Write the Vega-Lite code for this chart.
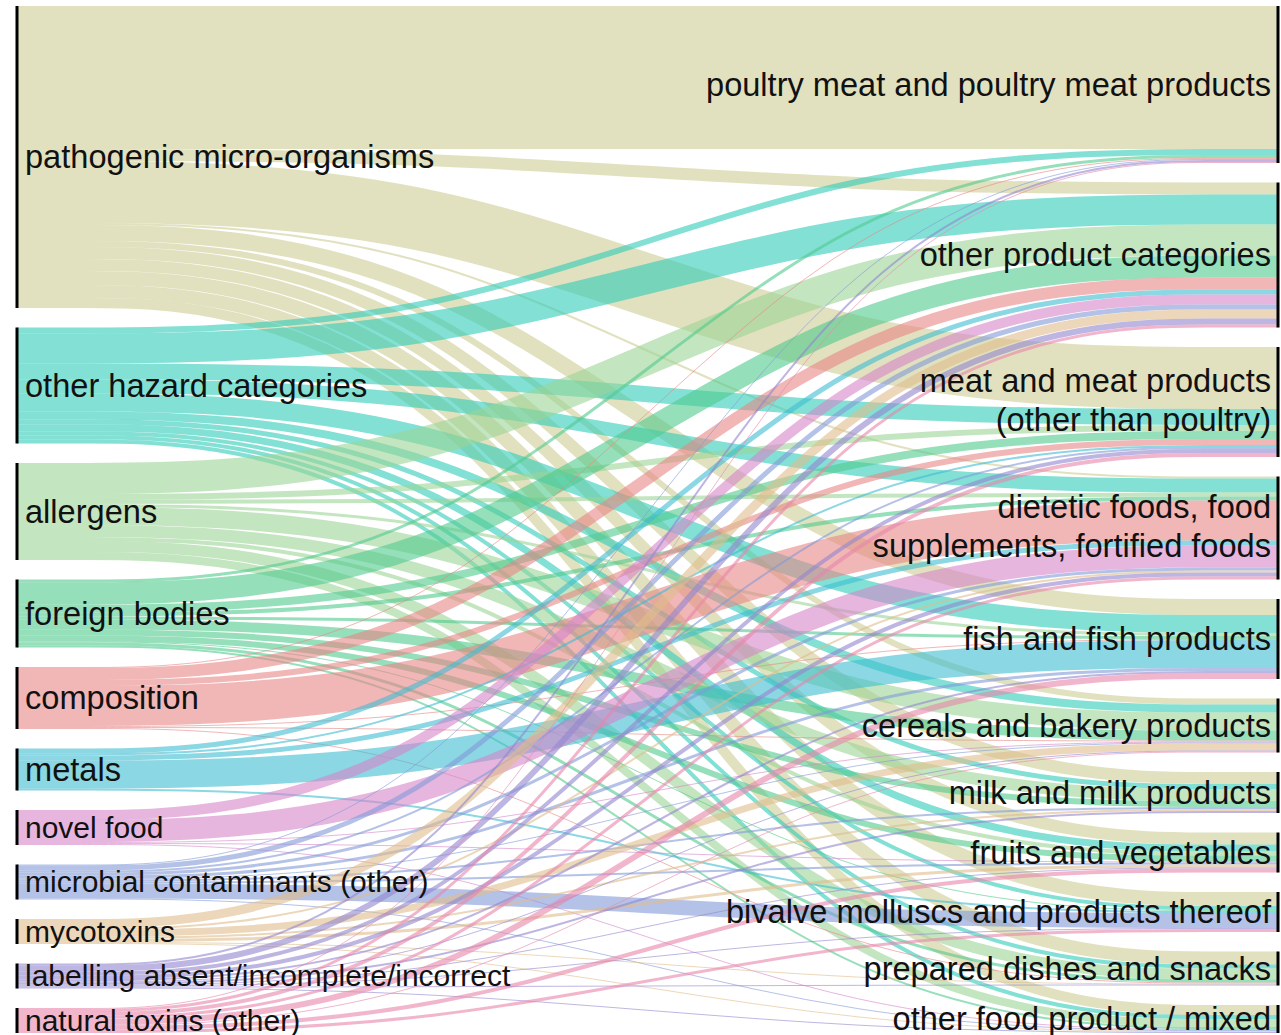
{
  "$schema": "https://vega.github.io/schema/vega-lite/v6.json",
  "width": 1261,
  "height": 1032,
  "padding": {"left": 17, "top": 6, "right": 3, "bottom": 0},
  "autosize": {"type": "none"},
  "background": "white",
  "config": {"view": {"stroke": null}, "text": {"font": "Liberation Sans"}},
  "data": {"values": [
    {"source": "pathogenic micro-organisms", "target": "poultry meat and poultry meat products", "value": 143},
    {"source": "pathogenic micro-organisms", "target": "other product categories", "value": 12},
    {"source": "pathogenic micro-organisms", "target": "meat and meat products\n(other than poultry)", "value": 62},
    {"source": "pathogenic micro-organisms", "target": "dietetic foods, food\nsupplements, fortified foods", "value": 2},
    {"source": "pathogenic micro-organisms", "target": "fish and fish products", "value": 16},
    {"source": "pathogenic micro-organisms", "target": "cereals and bakery products", "value": 6},
    {"source": "pathogenic micro-organisms", "target": "milk and milk products", "value": 12},
    {"source": "pathogenic micro-organisms", "target": "fruits and vegetables", "value": 12},
    {"source": "pathogenic micro-organisms", "target": "bivalve molluscs and products thereof", "value": 14},
    {"source": "pathogenic micro-organisms", "target": "prepared dishes and snacks", "value": 13},
    {"source": "pathogenic micro-organisms", "target": "other food product / mixed", "value": 10},

    {"source": "other hazard categories", "target": "poultry meat and poultry meat products", "value": 6},
    {"source": "other hazard categories", "target": "other product categories", "value": 30},
    {"source": "other hazard categories", "target": "meat and meat products\n(other than poultry)", "value": 16},
    {"source": "other hazard categories", "target": "dietetic foods, food\nsupplements, fortified foods", "value": 14},
    {"source": "other hazard categories", "target": "fish and fish products", "value": 18},
    {"source": "other hazard categories", "target": "cereals and bakery products", "value": 8},
    {"source": "other hazard categories", "target": "milk and milk products", "value": 5},
    {"source": "other hazard categories", "target": "fruits and vegetables", "value": 7},
    {"source": "other hazard categories", "target": "bivalve molluscs and products thereof", "value": 4},
    {"source": "other hazard categories", "target": "prepared dishes and snacks", "value": 4},
    {"source": "other hazard categories", "target": "other food product / mixed", "value": 4},

    {"source": "allergens", "target": "other product categories", "value": 31},
    {"source": "allergens", "target": "meat and meat products\n(other than poultry)", "value": 6},
    {"source": "allergens", "target": "dietetic foods, food\nsupplements, fortified foods", "value": 4},
    {"source": "allergens", "target": "fish and fish products", "value": 3},
    {"source": "allergens", "target": "cereals and bakery products", "value": 18},
    {"source": "allergens", "target": "milk and milk products", "value": 12},
    {"source": "allergens", "target": "fruits and vegetables", "value": 4},
    {"source": "allergens", "target": "prepared dishes and snacks", "value": 11},
    {"source": "allergens", "target": "other food product / mixed", "value": 8},

    {"source": "foreign bodies", "target": "poultry meat and poultry meat products", "value": 3},
    {"source": "foreign bodies", "target": "other product categories", "value": 22},
    {"source": "foreign bodies", "target": "meat and meat products\n(other than poultry)", "value": 8},
    {"source": "foreign bodies", "target": "dietetic foods, food\nsupplements, fortified foods", "value": 4},
    {"source": "foreign bodies", "target": "fish and fish products", "value": 3},
    {"source": "foreign bodies", "target": "cereals and bakery products", "value": 10},
    {"source": "foreign bodies", "target": "milk and milk products", "value": 6},
    {"source": "foreign bodies", "target": "fruits and vegetables", "value": 6},
    {"source": "foreign bodies", "target": "bivalve molluscs and products thereof", "value": 1},
    {"source": "foreign bodies", "target": "prepared dishes and snacks", "value": 3},
    {"source": "foreign bodies", "target": "other food product / mixed", "value": 2},

    {"source": "composition", "target": "poultry meat and poultry meat products", "value": 1},
    {"source": "composition", "target": "other product categories", "value": 12},
    {"source": "composition", "target": "meat and meat products\n(other than poultry)", "value": 6},
    {"source": "composition", "target": "dietetic foods, food\nsupplements, fortified foods", "value": 40},
    {"source": "composition", "target": "fish and fish products", "value": 1},
    {"source": "composition", "target": "cereals and bakery products", "value": 1},
    {"source": "composition", "target": "prepared dishes and snacks", "value": 1},

    {"source": "metals", "target": "other product categories", "value": 5},
    {"source": "metals", "target": "meat and meat products\n(other than poultry)", "value": 2},
    {"source": "metals", "target": "dietetic foods, food\nsupplements, fortified foods", "value": 5},
    {"source": "metals", "target": "fish and fish products", "value": 28},
    {"source": "metals", "target": "bivalve molluscs and products thereof", "value": 2},

    {"source": "novel food", "target": "other product categories", "value": 10},
    {"source": "novel food", "target": "dietetic foods, food\nsupplements, fortified foods", "value": 22},
    {"source": "novel food", "target": "cereals and bakery products", "value": 1},
    {"source": "novel food", "target": "fruits and vegetables", "value": 1},
    {"source": "novel food", "target": "other food product / mixed", "value": 1},

    {"source": "microbial contaminants (other)", "target": "poultry meat and poultry meat products", "value": 1},
    {"source": "microbial contaminants (other)", "target": "other product categories", "value": 5},
    {"source": "microbial contaminants (other)", "target": "meat and meat products\n(other than poultry)", "value": 2},
    {"source": "microbial contaminants (other)", "target": "dietetic foods, food\nsupplements, fortified foods", "value": 3},
    {"source": "microbial contaminants (other)", "target": "fish and fish products", "value": 3},
    {"source": "microbial contaminants (other)", "target": "cereals and bakery products", "value": 1},
    {"source": "microbial contaminants (other)", "target": "milk and milk products", "value": 2},
    {"source": "microbial contaminants (other)", "target": "fruits and vegetables", "value": 2},
    {"source": "microbial contaminants (other)", "target": "bivalve molluscs and products thereof", "value": 15},
    {"source": "microbial contaminants (other)", "target": "other food product / mixed", "value": 1},

    {"source": "mycotoxins", "target": "other product categories", "value": 9},
    {"source": "mycotoxins", "target": "dietetic foods, food\nsupplements, fortified foods", "value": 2},
    {"source": "mycotoxins", "target": "cereals and bakery products", "value": 7},
    {"source": "mycotoxins", "target": "milk and milk products", "value": 2},
    {"source": "mycotoxins", "target": "fruits and vegetables", "value": 3},
    {"source": "mycotoxins", "target": "prepared dishes and snacks", "value": 1},
    {"source": "mycotoxins", "target": "other food product / mixed", "value": 1},

    {"source": "labelling absent/incomplete/incorrect", "target": "poultry meat and poultry meat products", "value": 2},
    {"source": "labelling absent/incomplete/incorrect", "target": "other product categories", "value": 6},
    {"source": "labelling absent/incomplete/incorrect", "target": "meat and meat products\n(other than poultry)", "value": 4},
    {"source": "labelling absent/incomplete/incorrect", "target": "dietetic foods, food\nsupplements, fortified foods", "value": 4},
    {"source": "labelling absent/incomplete/incorrect", "target": "fish and fish products", "value": 2},
    {"source": "labelling absent/incomplete/incorrect", "target": "cereals and bakery products", "value": 1},
    {"source": "labelling absent/incomplete/incorrect", "target": "milk and milk products", "value": 2},
    {"source": "labelling absent/incomplete/incorrect", "target": "fruits and vegetables", "value": 1},
    {"source": "labelling absent/incomplete/incorrect", "target": "bivalve molluscs and products thereof", "value": 1},
    {"source": "labelling absent/incomplete/incorrect", "target": "prepared dishes and snacks", "value": 1},
    {"source": "labelling absent/incomplete/incorrect", "target": "other food product / mixed", "value": 1},

    {"source": "natural toxins (other)", "target": "poultry meat and poultry meat products", "value": 1},
    {"source": "natural toxins (other)", "target": "other product categories", "value": 3},
    {"source": "natural toxins (other)", "target": "meat and meat products\n(other than poultry)", "value": 4},
    {"source": "natural toxins (other)", "target": "dietetic foods, food\nsupplements, fortified foods", "value": 3},
    {"source": "natural toxins (other)", "target": "fish and fish products", "value": 6},
    {"source": "natural toxins (other)", "target": "cereals and bakery products", "value": 1},
    {"source": "natural toxins (other)", "target": "fruits and vegetables", "value": 4},
    {"source": "natural toxins (other)", "target": "bivalve molluscs and products thereof", "value": 3}
  ]},
  "transform": [
    {"window": [{"op": "row_number", "as": "i"}]},
    {"joinaggregate": [{"op": "min", "field": "i", "as": "ti"}], "groupby": ["target"]},
    {"joinaggregate": [{"op": "min", "field": "i", "as": "sf"}], "groupby": ["source"]},
    {"window": [{"op": "dense_rank", "as": "si"}], "sort": [{"field": "sf", "order": "ascending"}]},
    {"window": [{"op": "sum", "field": "value", "as": "sCum"}], "sort": [{"field": "i", "order": "ascending"}], "frame": [null, 0]},
    {"window": [{"op": "sum", "field": "value", "as": "tCum"}], "sort": [{"field": "ti", "order": "ascending"}, {"field": "i", "order": "ascending"}], "frame": [null, 0]},
    {"calculate": "datum.sCum - datum.value / 2 + 19.5 * (datum.si - 1)", "as": "s0"},
    {"calculate": "datum.tCum - datum.value / 2 + 19.5 * (datum.ti - 1)", "as": "t1"},
    {"calculate": "datum.s0", "as": "s1"},
    {"calculate": "datum.t1", "as": "t0"}
  ],
  "layer": [
    {
      "transform": [{"fold": ["s0", "s1", "t0", "t1"], "as": ["stage", "ypos"]}],
      "mark": {"type": "line", "interpolate": "basis", "opacity": 0.6, "strokeCap": "butt"},
      "encoding": {
        "x": {"field": "stage", "type": "ordinal", "scale": {"type": "point", "domain": ["s0", "s1", "t0", "t1"], "padding": 0}, "axis": null},
        "y": {"field": "ypos", "type": "quantitative", "scale": {"domain": [0, 1032], "reverse": true, "nice": false, "zero": false}, "axis": null},
        "detail": {"field": "i", "type": "nominal"},
        "order": {"field": "stage"},
        "color": {"field": "source", "type": "nominal", "legend": null,
          "scale": {
            "domain": ["pathogenic micro-organisms", "other hazard categories", "allergens", "foreign bodies", "composition", "metals", "novel food", "microbial contaminants (other)", "mycotoxins", "labelling absent/incomplete/incorrect", "natural toxins (other)"],
            "range": ["#cdcd94", "#2ecbb9", "#9bd494", "#50c98e", "#e88585", "#3dbdd0", "#d585c9", "#8299d9", "#dfbd8c", "#9285cf", "#e885aa"]
          }},
        "strokeWidth": {"field": "value", "type": "quantitative", "scale": null, "legend": null}
      }
    },
    {
      "transform": [
        {"calculate": "datum.s0 - datum.value / 2", "as": "a"},
        {"calculate": "datum.s0 + datum.value / 2", "as": "b"},
        {"aggregate": [{"op": "min", "field": "a", "as": "top"}, {"op": "max", "field": "b", "as": "bot"}], "groupby": ["source"]}
      ],
      "mark": {"type": "rule", "strokeWidth": 3, "color": "#000000"},
      "encoding": {
        "x": {"datum": "s0", "type": "ordinal"},
        "y": {"field": "top", "type": "quantitative"},
        "y2": {"field": "bot"}
      }
    },
    {
      "transform": [
        {"calculate": "datum.t1 - datum.value / 2", "as": "a"},
        {"calculate": "datum.t1 + datum.value / 2", "as": "b"},
        {"aggregate": [{"op": "min", "field": "a", "as": "top"}, {"op": "max", "field": "b", "as": "bot"}], "groupby": ["target"]}
      ],
      "mark": {"type": "rule", "strokeWidth": 3, "color": "#000000"},
      "encoding": {
        "x": {"datum": "t1", "type": "ordinal"},
        "y": {"field": "top", "type": "quantitative"},
        "y2": {"field": "bot"}
      }
    },
    {
      "transform": [
        {"calculate": "datum.s0 - datum.value / 2", "as": "a"},
        {"calculate": "datum.s0 + datum.value / 2", "as": "b"},
        {"aggregate": [{"op": "min", "field": "a", "as": "top"}, {"op": "max", "field": "b", "as": "bot"}, {"op": "sum", "field": "value", "as": "total"}], "groupby": ["source"]},
        {"calculate": "(datum.top + datum.bot) / 2", "as": "mid"}
      ],
      "mark": {"type": "text", "align": "left", "baseline": "middle", "dx": 8, "dy": 1, "color": "#111111"},
      "encoding": {
        "x": {"datum": "s0", "type": "ordinal"},
        "y": {"field": "mid", "type": "quantitative"},
        "text": {"field": "source"},
        "size": {"field": "total", "type": "quantitative", "legend": null, "scale": {"type": "threshold", "domain": [40], "range": [30, 32.6]}}
      }
    },
    {
      "transform": [
        {"calculate": "datum.t1 - datum.value / 2", "as": "a"},
        {"calculate": "datum.t1 + datum.value / 2", "as": "b"},
        {"aggregate": [{"op": "min", "field": "a", "as": "top"}, {"op": "max", "field": "b", "as": "bot"}], "groupby": ["target"]},
        {"calculate": "(datum.top + datum.bot) / 2", "as": "mid"},
        {"filter": "indexof(datum.target, '\\n') < 0"}
      ],
      "mark": {"type": "text", "align": "right", "baseline": "middle", "dx": -7, "dy": 1, "fontSize": 32.6, "color": "#111111"},
      "encoding": {
        "x": {"datum": "t1", "type": "ordinal"},
        "y": {"field": "mid", "type": "quantitative"},
        "text": {"field": "target"}
      }
    },
    {
      "transform": [
        {"calculate": "datum.t1 - datum.value / 2", "as": "a"},
        {"calculate": "datum.t1 + datum.value / 2", "as": "b"},
        {"aggregate": [{"op": "min", "field": "a", "as": "top"}, {"op": "max", "field": "b", "as": "bot"}], "groupby": ["target"]},
        {"calculate": "(datum.top + datum.bot) / 2", "as": "mid"},
        {"filter": "indexof(datum.target, '\\n') >= 0"}
      ],
      "mark": {"type": "text", "align": "right", "baseline": "middle", "dx": -7, "dy": -20, "fontSize": 32.6, "lineBreak": "\n", "lineHeight": 38.5, "color": "#111111"},
      "encoding": {
        "x": {"datum": "t1", "type": "ordinal"},
        "y": {"field": "mid", "type": "quantitative"},
        "text": {"field": "target"}
      }
    }
  ]
}
